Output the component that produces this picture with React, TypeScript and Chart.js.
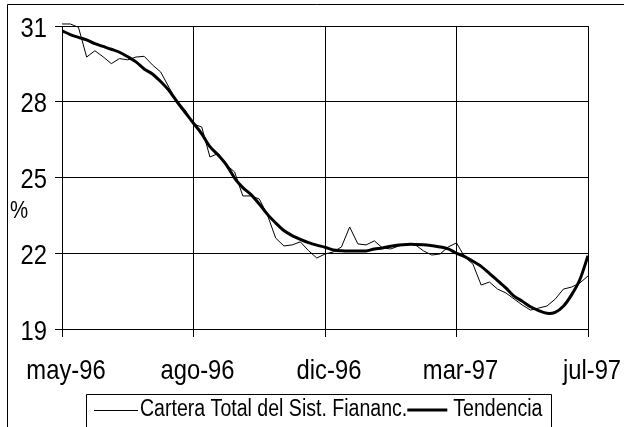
import React, { useEffect, useRef } from "react";
import { Chart, registerables } from "chart.js";

Chart.register(...registerables);

const monthLabels = ["may-96", "ago-96", "dic-96", "mar-97", "jul-97"];
const tickEvery = 16;
const yTicks = [19, 22, 25, 28, 31];

const carteraTotal = [
  31.08, 31.08, 30.95, 29.77, 30.02, 29.78, 29.51, 29.71, 29.66, 29.77,
  29.8, 29.46, 29.18, 28.58, 28.0, 27.67, 27.12, 27.0, 25.81, 25.95,
  25.5, 25.22, 24.27, 24.27, 24.15, 23.51, 22.6, 22.29, 22.33, 22.45,
  22.1, 21.81, 21.97, 22.05, 22.25, 23.04, 22.37, 22.33, 22.49, 22.21,
  22.17, 22.29, 22.37, 22.33, 22.09, 21.93, 21.97, 22.25, 22.41, 21.85,
  21.57, 20.74, 20.86, 20.58, 20.43, 20.19, 19.95, 19.75, 19.83, 19.91,
  20.18, 20.58, 20.66, 20.82, 21.1,
];

const tendencia = [
  30.81, 30.66, 30.55, 30.45, 30.3, 30.19, 30.08, 29.96, 29.78, 29.58,
  29.3, 29.1, 28.8, 28.45, 28.0, 27.57, 27.15, 26.73, 26.22, 25.89,
  25.5, 24.98, 24.6, 24.32, 23.95, 23.54, 23.2, 22.9, 22.7, 22.55,
  22.42, 22.32, 22.24, 22.13, 22.1, 22.09, 22.09, 22.09, 22.17, 22.21,
  22.28, 22.33, 22.35, 22.35, 22.34, 22.3, 22.25, 22.17, 22.0, 21.87,
  21.68, 21.48, 21.2, 20.92, 20.63, 20.3, 20.1, 19.88, 19.73, 19.62,
  19.66, 19.9, 20.35, 20.95, 21.9,
];

const seriesNames = ["Cartera Total del Sist. Fiananc.", "Tendencia"];
const yTitle = "%";

const FONT = "'Liberation Sans', Arial, sans-serif";
const SQUEEZE = 0.85;

function narrowText(
  ctx: CanvasRenderingContext2D,
  text: string,
  x: number,
  y: number,
  align: CanvasTextAlign
) {
  ctx.save();
  ctx.translate(x, y);
  ctx.scale(SQUEEZE, 1);
  ctx.textAlign = align;
  ctx.fillText(text, 0, 0);
  ctx.restore();
}

const decorPlugin = {
  id: "decor",
  afterDraw(chart: any) {
    const ctx = chart.ctx as CanvasRenderingContext2D;
    const xs = chart.scales.x;
    const ys = chart.scales.y;
    ctx.save();
    ctx.fillStyle = "#000";
    ctx.textBaseline = "middle";
    // tick labels
    ctx.font = `28px ${FONT}`;
    monthLabels.forEach((lab, i) => {
      narrowText(ctx, lab, xs.getPixelForValue(i * tickEvery) + 4, 371, "center");
    });
    yTicks.forEach((v) => {
      narrowText(ctx, String(v), 47, ys.getPixelForValue(v) + 3, "right");
    });
    // outer frame
    ctx.strokeStyle = "#000";
    ctx.lineWidth = 1;
    ctx.beginPath();
    ctx.moveTo(7.5, 440);
    ctx.lineTo(7.5, 4.5);
    ctx.lineTo(630, 4.5);
    ctx.stroke();
    // y title
    ctx.font = `24px ${FONT}`;
    narrowText(ctx, yTitle, 10, 211, "left");
    // legend
    const top = 394.5;
    const left = 86.5;
    const right = 551.5;
    ctx.beginPath();
    ctx.moveTo(left, 440);
    ctx.lineTo(left, top);
    ctx.lineTo(right, top);
    ctx.lineTo(right, 440);
    ctx.stroke();
    const ly = 410;
    ctx.font = `23px ${FONT}`;
    let x = 94;
    ctx.lineWidth = 1;
    ctx.beginPath();
    ctx.moveTo(x, ly + 0.5);
    ctx.lineTo(x + 44, ly + 0.5);
    ctx.stroke();
    x += 46;
    narrowText(ctx, seriesNames[0], x, ly, "left");
    x += ctx.measureText(seriesNames[0]).width * SQUEEZE;
    ctx.lineWidth = 3;
    ctx.beginPath();
    ctx.moveTo(x, ly);
    ctx.lineTo(x + 40, ly);
    ctx.stroke();
    x += 46;
    narrowText(ctx, seriesNames[1], x, ly, "left");
    ctx.restore();
  },
};

export default function App() {
  const ref = useRef<HTMLCanvasElement | null>(null);
  useEffect(() => {
    if (!ref.current) return;
    const chart = new Chart(ref.current, {
      type: "line",
      data: {
        datasets: [
          {
            label: seriesNames[0],
            data: carteraTotal.map((v, i) => ({ x: i, y: v })),
            borderColor: "#000",
            borderWidth: 1,
            pointRadius: 0,
            tension: 0,
            fill: false,
            clip: false,
          },
          {
            label: seriesNames[1],
            data: tendencia.map((v, i) => ({ x: i, y: v })),
            borderColor: "#000",
            borderWidth: 3,
            pointRadius: 0,
            tension: 0.3,
            fill: false,
          },
        ],
      },
      options: {
        animation: false,
        responsive: false,
        maintainAspectRatio: false,
        events: [],
        layout: { padding: { left: 0, top: 26, right: 36, bottom: 0 } },
        plugins: {
          legend: { display: false },
          tooltip: { enabled: false },
          title: { display: false },
        },
        scales: {
          x: {
            type: "linear",
            min: 0,
            max: (monthLabels.length - 1) * tickEvery,
            afterBuildTicks: (s: any) => {
              s.ticks = monthLabels.map((_, i) => ({ value: i * tickEvery }));
            },
            afterFit: (s: any) => {
              s.height = 98;
              s.paddingLeft = 0;
              s.paddingRight = 0;
            },
            ticks: { display: false },
            grid: { color: "#000", lineWidth: 1, tickLength: 8, drawTicks: true },
            border: { color: "#000", width: 1 },
          },
          y: {
            min: 19,
            max: 31,
            afterBuildTicks: (s: any) => {
              s.ticks = yTicks.map((v) => ({ value: v }));
            },
            afterFit: (s: any) => {
              s.width = 62;
              s.paddingTop = 0;
              s.paddingBottom = 0;
            },
            ticks: { display: false },
            grid: { color: "#000", lineWidth: 1, tickLength: 7, drawTicks: true },
            border: { color: "#000", width: 1 },
          },
        },
      },
      plugins: [decorPlugin],
    } as any);
    return () => chart.destroy();
  }, []);
  return (
    <div style={{ position: "fixed", left: 0, top: 0, width: 624, height: 427, background: "#fff" }}>
      <canvas ref={ref} width={624} height={427} style={{ display: "block" }} />
    </div>
  );
}
